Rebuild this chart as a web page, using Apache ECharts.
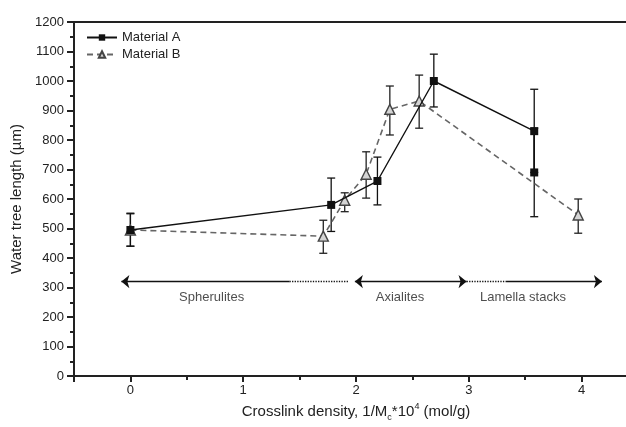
<!DOCTYPE html>
<html>
<head>
<meta charset="utf-8">
<script src="https://cdn.jsdelivr.net/npm/echarts@6/dist/echarts.min.js"></script>
<style>
  html, body { margin: 0; padding: 0; background: #fff; }
  #chart { width: 626px; height: 427px; }
</style>
</head>
<body>
<div id="chart"></div>
<script>
// Material A (filled squares, solid line)
const aX = [0, 1.78, 2.19, 2.69, 3.58, 3.58]
const aY = [495, 580, 661, 1000, 830, 690]
const aLow = [440, 490, 580, 912, 690, 540]
const aHigh = [550, 671, 742, 1091, 972, 840]

// Material B (open triangles, dashed line)
const bX = [0, 1.71, 1.90, 2.09, 2.30, 2.56, 3.97]
const bY = [495, 474, 596, 684, 904, 932, 546]
const bLow = [440, 416, 557, 603, 817, 840, 484]
const bHigh = [552, 528, 621, 760, 983, 1020, 600]

// morphology regions drawn as arrows at y = 320
const regionY = 320
const regionNames = ["Spherulites", "Axialites", "Lamella stacks"]
const regionLabelX = [0.72, 2.39, 3.48]
const regionLabelY = 268

const chart = echarts.init(document.getElementById("chart"))

const pairs = (xs, ys) => xs.map((x, i) => [x, ys[i]])
const bars = (xs, lo, hi) => xs.map((x, i) => [x, lo[i], hi[i]])

const errorBar = (color) => (params, api) => {
	const x = api.value(0)
	const lo = api.coord([x, api.value(1)])
	const hi = api.coord([x, api.value(2)])
	const w = 4
	const style = { stroke: color, lineWidth: 1.3 }
	return {
		type: "group",
		children: [
			{ type: "line", shape: { x1: lo[0], y1: lo[1], x2: hi[0], y2: hi[1] }, style },
			{ type: "line", shape: { x1: lo[0] - w, y1: lo[1], x2: lo[0] + w, y2: lo[1] }, style },
			{ type: "line", shape: { x1: hi[0] - w, y1: hi[1], x2: hi[0] + w, y2: hi[1] }, style },
		],
	}
}

const seg = (x1, x2, type, s1, s2) => [
	{ coord: [x1, regionY], symbol: s1 },
	{ coord: [x2, regionY], symbol: s2, lineStyle: { type: type, width: 1.3, color: "#111" } },
]

const font = "Liberation Sans, Arial, sans-serif"

let options = {
	animation: false,
	textStyle: { fontFamily: font },
	grid: {
		left: 74,
		top: 22,
		width: 564,
		height: 354,
		outerBoundsMode: "none",
		containLabel: false,
		show: true,
		borderColor: "#222",
		borderWidth: 2,
	},
	legend: {
		data: ["Material A", "Material B"],
		orient: "vertical",
		left: 81,
		top: 26,
		itemWidth: 30,
		itemHeight: 8,
		itemGap: 4,
		textStyle: { fontSize: 13, color: "#222", fontFamily: font },
	},
	xAxis: {
		type: "value",
		min: -0.5,
		max: 4.5,
		splitNumber: 5,
		splitLine: { show: false },
		axisLine: { onZero: false, lineStyle: { color: "#222", width: 2 } },
		axisTick: { inside: false, length: 6, lineStyle: { color: "#222", width: 2 } },
		minorTick: { show: true, splitNumber: 2, length: 4, lineStyle: { color: "#222", width: 2 } },
		axisLabel: {
			color: "#222",
			fontSize: 13,
			margin: 8,
			formatter: (v) => (Number.isInteger(v) ? String(v) : ""),
		},
		name: "{a|Crosslink density, 1/M}{sub|c}{a|*10}{sup|4}{a| (mol/g)}",
		nameLocation: "middle",
		nameGap: 25,
		nameTextStyle: {
			rich: {
				a: { fontSize: 15, color: "#222", fontFamily: font },
				sub: { fontSize: 9, color: "#222", fontFamily: font, padding: [12, 0, 0, 0] },
				sup: { fontSize: 9, color: "#222", fontFamily: font, padding: [0, 0, 10, 0] },
			},
		},
	},
	yAxis: {
		type: "value",
		min: 0,
		max: 1200,
		interval: 100,
		splitLine: { show: false },
		axisLine: { show: true, onZero: false, lineStyle: { color: "#222", width: 2 } },
		axisTick: { show: true, length: 7, lineStyle: { color: "#222", width: 2 } },
		minorTick: { show: true, splitNumber: 2, length: 4, lineStyle: { color: "#222", width: 2 } },
		axisLabel: { color: "#222", fontSize: 13, margin: 10, formatter: (v) => String(v) },
		name: "Water tree length (\u00b5m)",
		nameLocation: "middle",
		nameGap: 48,
		nameTextStyle: { fontSize: 15, color: "#222", fontFamily: font },
	},
	series: [
		{
			name: "Material B",
			type: "line",
			data: pairs(bX, bY),
			symbol: "triangle",
			symbolSize: 10,
			lineStyle: { color: "#666", width: 1.6, type: [6, 4] },
			itemStyle: { color: "#d4d4d4", borderColor: "#444", borderWidth: 1.4 },
			z: 3,
		},
		{
			name: "Material A",
			type: "line",
			data: pairs(aX, aY),
			symbol: "rect",
			symbolSize: 8,
			lineStyle: { color: "#111", width: 1.4 },
			itemStyle: { color: "#111" },
			z: 4,
		},
		{
			type: "custom",
			renderItem: errorBar("#222"),
			data: bars(bX, bLow, bHigh),
			z: 2,
		},
		{
			type: "custom",
			renderItem: errorBar("#111"),
			data: bars(aX, aLow, aHigh),
			z: 2,
		},
		{
			type: "scatter",
			symbolSize: 1,
			itemStyle: { color: "rgba(0,0,0,0)" },
			data: regionNames.map((n, i) => ({ name: n, value: [regionLabelX[i], regionLabelY] })),
			label: {
				show: true,
				position: "inside",
				formatter: (p) => p.name,
				fontSize: 13,
				color: "#222",
				fontFamily: font,
			},
			markLine: {
				silent: true,
				symbolSize: [10, 8],
				label: { show: false },
				lineStyle: { color: "#111", width: 1.3, type: "solid" },
				data: [
					seg(1.41, -0.08, "solid", "none", "arrow"),
					seg(1.41, 1.93, "dotted", "none", "none"),
					seg(1.99, 2.98, "solid", "arrow", "arrow"),
					seg(2.98, 3.33, "dotted", "none", "none"),
					seg(3.33, 4.18, "solid", "none", "arrow"),
				],
			},
		},
	],
}

chart.setOption(options)
</script>
</body>
</html>
